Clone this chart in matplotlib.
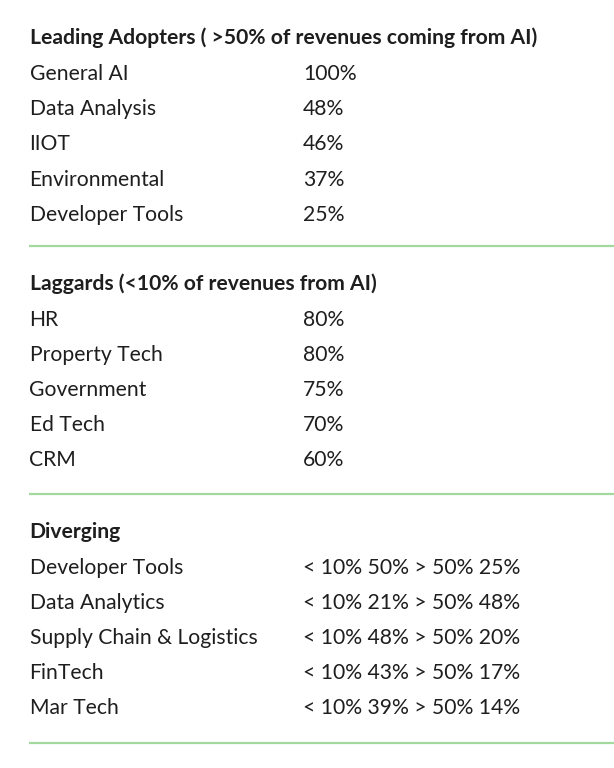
import matplotlib
matplotlib.use("Agg")
import matplotlib.pyplot as plt

plt.rcParams["font.family"] = ["Lato", "DejaVu Sans"]

leading_title = "Leading Adopters ( >50% of revenues coming from AI)"
leading_names = ["General AI", "Data Analysis", "IIOT", "Environmental", "Developer Tools"]
leading_share = [100, 48, 46, 37, 25]

laggard_title = "Laggards (<10% of revenues from AI)"
laggard_names = ["HR", "Property Tech", "Government", "Ed Tech", "CRM"]
laggard_share = [80, 80, 75, 70, 60]

diverging_title = "Diverging"
diverging_names = ["Developer Tools", "Data Analytics", "Supply Chain & Logistics", "FinTech", "Mar Tech"]
diverging_low = [50, 21, 48, 43, 39]
diverging_high = [25, 48, 20, 17, 14]

TEXT = "#1e1e1e"
RULE = "#a3d99c"
SIZE = 15.2

fig = plt.figure(figsize=(6.14, 7.68), dpi=100)
ax = fig.add_axes([0, 0, 1, 1])
ax.set_xlim(0, 614)
ax.set_ylim(768, 0)
ax.axis("off")

sections = [
    (leading_title, leading_names, [f"{v}%" for v in leading_share]),
    (laggard_title, laggard_names, [f"{v}%" for v in laggard_share]),
    (diverging_title, diverging_names,
     [f"< 10% {lo}% > 50% {hi}%" for lo, hi in zip(diverging_low, diverging_high)]),
]

# pixel layout (baselines of headings, y of separator rules)
heading_base = [44.5, 290, 538]
rule_y = [246, 494, 743]
first_gap = 35.5
row_step = 35.2

for (title, names, values), y0, ry in zip(sections, heading_base, rule_y):
    ax.text(29.5, y0, title, fontsize=SIZE, fontweight="bold", color=TEXT, va="baseline")
    for j, (name, value) in enumerate(zip(names, values)):
        y = y0 + first_gap + j * row_step
        ax.text(29.5, y, name, fontsize=SIZE, color=TEXT, va="baseline")
        ax.text(303, y, value, fontsize=SIZE, color=TEXT, va="baseline")
    ax.plot([29, 614], [ry, ry], color=RULE, lw=1.6, solid_capstyle="butt")

fig.savefig("out.png", dpi=100)
